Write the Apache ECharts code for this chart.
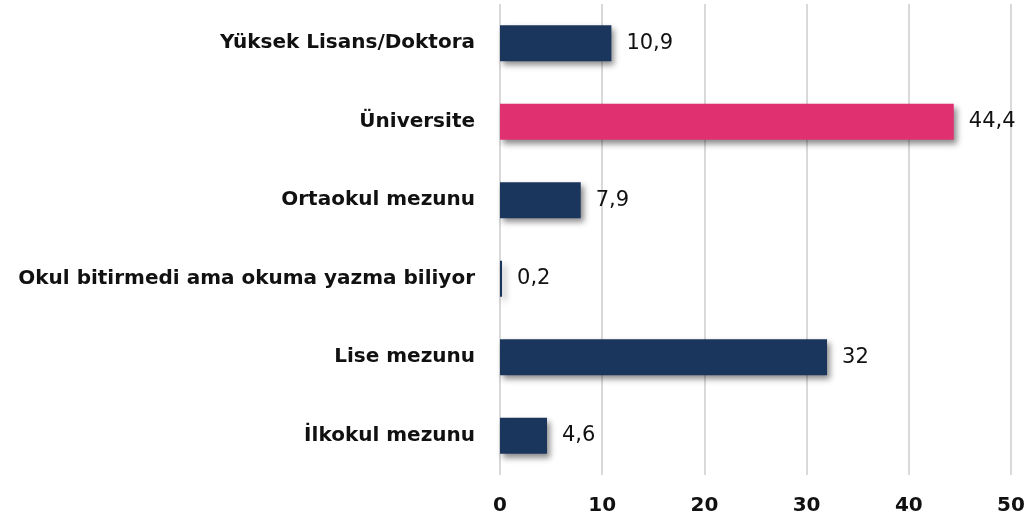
<!DOCTYPE html>
<html>
<head>
<meta charset="utf-8">
<script src="https://cdn.jsdelivr.net/npm/echarts@6/dist/echarts.min.js"></script>
<style>
  html, body { margin: 0; padding: 0; background: #fff; }
  #chart { width: 1029px; height: 527px; }
</style>
</head>
<body>
<div id="chart"></div>
<script>
  // bottom to top, as ECharts lays out a category y axis
  const categories = [
    'İlkokul mezunu',
    'Lise mezunu',
    'Okul bitirmedi ama okuma yazma biliyor',
    'Ortaokul mezunu',
    'Üniversite',
    'Yüksek Lisans/Doktora'
  ];
  const values = [4.6, 32, 0.2, 7.9, 44.4, 10.9];
  const highlight = 'Üniversite';
  const xTicks = [0, 10, 20, 30, 40, 50];

  const navy = '#1b365d';
  const pink = '#e03070';

  const chart = echarts.init(document.getElementById('chart'));
  chart.setOption({
    animation: false,
    textStyle: { fontFamily: 'DejaVu Sans' },
    grid: { left: 500, right: 18, top: 4, bottom: 52, containLabel: false },
    xAxis: {
      type: 'value',
      min: xTicks[0],
      max: xTicks[xTicks.length - 1],
      interval: 10,
      axisLine: { show: false },
      axisTick: { show: false },
      axisLabel: { fontSize: 20, fontWeight: 'bold', color: '#111', margin: 21 },
      splitLine: { lineStyle: { color: '#d9d9d9', width: 2 } }
    },
    yAxis: {
      type: 'category',
      data: categories,
      axisLine: { show: false },
      axisTick: { show: false },
      axisLabel: { fontSize: 20, fontWeight: 'bold', color: '#111', margin: 25 }
    },
    series: [{
      type: 'bar',
      barWidth: 36,
      data: values.map((v, i) => ({
        value: v,
        itemStyle: { color: categories[i] === highlight ? pink : navy }
      })),
      itemStyle: {
        shadowColor: 'rgba(0,0,0,0.45)',
        shadowBlur: 6,
        shadowOffsetX: 3,
        shadowOffsetY: 4
      },
      label: {
        show: true,
        position: 'right',
        distance: 15,
        fontSize: 21,
        color: '#111',
        formatter: p => String(p.value).replace('.', ',')
      }
    }]
  });
</script>
</body>
</html>
